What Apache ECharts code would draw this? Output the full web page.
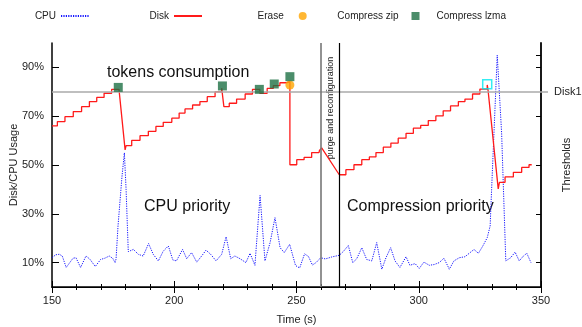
<!DOCTYPE html>
<html>
<head>
<meta charset="utf-8">
<script src="https://cdn.jsdelivr.net/npm/echarts@6/dist/echarts.min.js"></script>
<style>html,body{margin:0;padding:0;background:#fff}#c{width:582px;height:327px}</style>
</head>
<body>
<div id="c"></div>
<script>
// ---- data ----
const cpuTime = [150,151.5,153,154.2,155.8,158.6,159.8,161.7,163.9,165.5,167.7,169.9,171.6,173.4,174.8,175.8,176.2,177,178.6,179.6,180.3,181.2,181.8,183.3,185.3,187.3,189.5,191.4,193.5,195.5,197.6,199.4,200.9,203.4,205.1,207.1,209.2,211.2,213,214.9,217.1,219.4,221.2,223.1,224.8,226.9,229.3,231,233,235.1,237.1,239.2,241.2,243.3,245,247.2,249.6,251.3,253.3,254.9,256.5,258,259.9,261.8,264.4,267.5,269.1,271.2,273,274.6,276.7,278.7,280.8,282.8,284.9,286.6,288.5,290.3,292.3,294.8,296.4,298.5,300.2,302.1,304.3,306.3,308.4,310.3,312.5,314.4,316.6,318.9,321,322.6,324.4,326.2,328,329.2,329.8,332.1,333.9,335.6,337.6,339.4,341.1,342.8,344.2,345.9];
const cpuUsage = [12,13.2,13.4,12.7,8,11.8,12,8,12.7,11.4,8.4,11.3,11.8,12.7,11.8,10,11.5,25,45,55,40,14.5,14.7,15.4,13.4,12.7,17.8,13.4,10.7,14.7,16.8,11.1,10.7,15.4,11.6,14.1,10.2,12.7,15.1,13.4,10.7,13.4,20.6,11.6,12.7,11.6,10,13.8,8.9,37.5,10.7,18.2,28.4,16.1,14.1,17.5,8.8,7.8,13.6,12.5,9,10,12,11.5,12.3,13,14.5,17,10,11.5,16.1,11.3,10.7,18.2,7.3,12,16.1,10.7,8,12.4,8.9,9.6,7.6,10.2,8.9,9.2,10,11.8,7.3,10.7,12,12.4,14.1,15.4,13.8,16.8,20.2,25,40,95,63,10.7,12,14.3,10.7,12.7,13.8,10];

const diskTime = [150,152.2,152.2,155.3,155.3,158.7,158.7,162.1,162.1,165.3,165.3,168.3,168.3,171.3,171.3,174.4,174.4,177.4,
  179.9,180.3,182.6,182.6,186,186,189.4,189.4,192.5,192.5,195.5,195.5,199,199,202,202,204.4,204.4,207.5,207.5,210.5,210.5,213.5,213.5,216.7,216.7,219.4,219.4,219.9,
  220.3,222.5,222.5,225.5,225.5,229,229,232,232,235,235,238,238,240.5,240.5,243.2,243.2,245.7,245.7,247.3,
  247.3,250.1,250.1,253.1,253.1,256.2,256.2,259.2,259.4,260.3,
  267.5,270.2,270.2,273.5,273.5,276.7,276.7,279.8,279.8,282.5,282.5,285.5,285.5,288.6,288.6,291.6,291.6,294.8,294.8,297.8,297.8,300.8,300.8,303.9,303.9,307,307,310,310,313,313,316.2,316.2,318.9,318.9,322,322,325,325,328,328,328.3,328.3,328.6,
  332.5,333,335.3,335.3,338.7,338.7,342.1,342.1,345.1,345.1,346.2];
const diskUsage = [66,66,67.8,67.8,69.8,69.8,71.9,71.9,73.9,73.9,76,76,77.7,77.7,79.4,79.4,81,81,
  56.2,57.9,57.9,60.1,60.1,62,62,63.8,63.8,65.8,65.8,67.5,67.5,69.2,69.2,71.3,71.3,73,73,74.6,74.6,76,76,78,78,80,80,81.5,81.5,
  73.9,73.9,75.3,75.3,77,77,79.1,79.1,81,81,79.4,79.4,81.4,81.4,82.5,82.5,83.7,83.7,84.1,84.1,
  50.1,50.1,52.2,52.2,53.1,53.1,55.1,55.1,56,57,
  46,46,48.1,48.1,50.1,50.1,52.2,52.2,53.3,53.3,55.1,55.1,57.3,57.3,59,59,61,61,63,63,65.1,65.1,66.2,66.2,68.2,68.2,70.1,70.1,72.2,72.2,74.2,74.2,76,76,77,77,79.1,79.1,81.1,81.1,82.8,82.8,81.1,81.1,
  40.2,42.9,42.9,45.1,45.1,47,47,49,49,50.1,50.1];

const eraseTime = [247.3];
const eraseUsage = [82.8];
const zipTime = [177.1,219.7,234.8,240.9,247.3];
const zipUsage = [81.8,82.4,81.0,83.2,86.2];
const lzmaTime = [328.0];
const lzmaUsage = [83.1];

const leftTicks = [10,30,50,70,90];
const rightTicks = [10,30,50,70,90,95];
const thresholdValue = 80;
const thresholdLabel = 'Disk1';
const purgeStart = 260, purgeEnd = 267.5;

const zip = (a, b) => a.map((v, i) => [v, b[i]]);

const FONT = '"Liberation Sans", Arial, sans-serif';
const txt = {fontFamily: FONT, fontSize: 11, color: '#222'};
const legTxt = {fontFamily: FONT, fontSize: 10, color: '#222'};

const chart = echarts.init(document.getElementById('c'), null, {renderer: 'canvas'});

function legend(item, right, extra) {
  return Object.assign({
    data: [item], right: right, top: 11, padding: 0, itemWidth: 28, itemHeight: 8,
    align: 'right', textStyle: legTxt, selectedMode: false
  }, extra || {});
}

const option = {
  animation: false,
  backgroundColor: '#fff',
  textStyle: {fontFamily: FONT},
  grid: {left: 52, right: 41, top: 43, bottom: 40, containLabel: false, outerBoundsMode: 'none'},
  legend: [
    legend({name: 'CPU', itemStyle: {opacity: 0}}, 492),
    legend({name: 'Disk', itemStyle: {opacity: 0}}, 379),
    legend('Erase', 275.3),
    legend('Compress zip', 162.5, {itemWidth: 8, itemHeight: 8,
      textStyle: Object.assign({padding: [0, 8, 0, 0]}, legTxt)}),
    legend({name: 'Compress lzma', itemStyle: {opacity: 0}}, 42)
  ],
  xAxis: [{
    type: 'value', min: 150, max: 350, interval: 50, position: 'bottom',
    name: 'Time (s)', nameLocation: 'middle', nameGap: 27, nameTextStyle: txt, nameMoveOverlap: false,
    axisLine: {lineStyle: {color: '#000', width: 1.5}},
    axisTick: {inside: true, length: 6, lineStyle: {color: '#000', width: 1}},
    minorTick: {show: true, splitNumber: 5, length: 3, lineStyle: {color: '#000', width: 1}},
    axisLabel: Object.assign({margin: 8}, txt),
    splitLine: {show: false}
  }, {
    type: 'value', min: 150, max: 350, interval: 50, position: 'top',
    axisLine: {lineStyle: {color: '#000', width: 1.2}},
    axisTick: {inside: true, length: 6, lineStyle: {color: '#000', width: 1}},
    minorTick: {show: true, splitNumber: 5, length: 3, lineStyle: {color: '#000', width: 1}},
    axisLabel: {show: false},
    splitLine: {show: false}
  }],
  yAxis: [{
    type: 'value', min: 0, max: 100, interval: 10, position: 'left',
    name: 'Disk/CPU Usage', nameLocation: 'middle', nameGap: 33, nameTextStyle: txt, nameMoveOverlap: false,
    axisLine: {show: true, lineStyle: {color: '#000', width: 1.5}},
    axisTick: {show: true, inside: true, length: 7, customValues: leftTicks, lineStyle: {color: '#000'}},
    axisLabel: Object.assign({customValues: leftTicks, formatter: '{value}%', margin: 8}, txt),
    splitLine: {show: false}
  }, {
    type: 'value', min: 0, max: 100, interval: 10, position: 'right',
    name: 'Thresholds', nameLocation: 'middle', nameGap: 20, nameRotate: 90, nameTextStyle: txt, nameMoveOverlap: false,
    axisLine: {show: true, lineStyle: {color: '#000', width: 1.8}},
    axisTick: {show: true, inside: true, length: 5, customValues: rightTicks, lineStyle: {color: '#000'}},
    axisLabel: {show: false},
    splitLine: {show: false}
  }, {
    type: 'value', min: 0, max: 100, interval: 10, position: 'right',
    axisLine: {show: false},
    axisTick: {show: true, inside: false, length: 7, customValues: [thresholdValue], lineStyle: {color: '#aaa', width: 1.5}},
    axisLabel: Object.assign({customValues: [thresholdValue], formatter: () => thresholdLabel, margin: 13}, txt),
    splitLine: {show: false}
  }],
  series: [{
    name: 'CPU', type: 'line', data: zip(cpuTime, cpuUsage), symbol: 'none', z: 2,
    itemStyle: {color: '#1515ff'},
    lineStyle: {color: '#1515ff', width: 1, type: [1.2, 1.2]}
  }, {
    name: 'Disk', type: 'line', data: zip(diskTime, diskUsage), symbol: 'none', z: 3,
    itemStyle: {color: '#ff1a1a'},
    lineStyle: {color: '#ff1a1a', width: 1.3},
    markLine: {
      silent: true, symbol: 'none', label: {show: false}, animation: false,
      data: [
        {yAxis: thresholdValue, lineStyle: {color: '#aaa', width: 1.5, type: 'solid'}},
        {xAxis: purgeStart, lineStyle: {color: '#777', width: 1.6, type: 'solid'}},
        {xAxis: purgeEnd, lineStyle: {color: '#000', width: 1.2, type: 'solid'}}
      ]
    }
  }, {
    name: 'Erase', type: 'scatter', data: zip(eraseTime, eraseUsage), symbol: 'circle', symbolSize: 9, z: 4,
    itemStyle: {color: '#ffa500'}
  }, {
    name: 'Compress zip', type: 'scatter', data: zip(zipTime, zipUsage), symbol: 'rect', symbolSize: 9, z: 5,
    itemStyle: {color: '#1e7145'}
  }, {
    name: 'Compress lzma', type: 'scatter', data: zip(lzmaTime, lzmaUsage), symbol: 'rect', symbolSize: 9, z: 5,
    itemStyle: {color: 'rgba(0,0,0,0)', borderColor: '#00e8f0', borderWidth: 1.5}
  }],
  graphic: [
    {type: 'text', left: 107, top: 65, style: {text: 'tokens consumption', font: '16px ' + FONT, fill: '#111'}},
    {type: 'text', left: 144, top: 199, style: {text: 'CPU priority', font: '16px ' + FONT, fill: '#111'}},
    {type: 'text', left: 347, top: 199, style: {text: 'Compression priority', font: '16px ' + FONT, fill: '#111'}},
    {type: 'text', x: 331, y: 108, rotation: Math.PI / 2,
     style: {text: 'purge and reconfiguration', font: '9px ' + FONT, fill: '#222', align: 'center', verticalAlign: 'middle'}}
  ]
};
chart.setOption(option);
</script>
</body>
</html>
